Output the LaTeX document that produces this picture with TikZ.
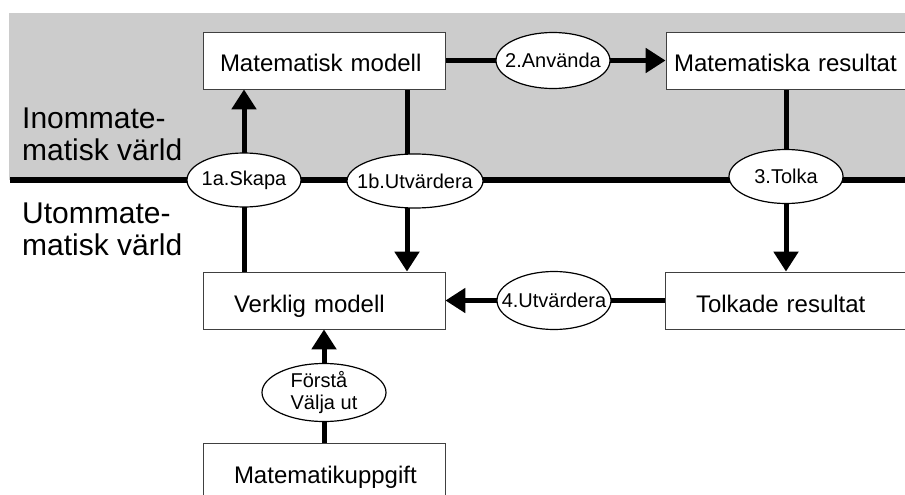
\documentclass[tikz,border=0pt]{standalone}
\usepackage{fontspec}
\setmainfont{Liberation Sans}
\usetikzlibrary{positioning,shapes.geometric,arrows.meta,backgrounds}

\begin{document}
\begin{tikzpicture}[x=1pt, y=-1pt, node distance = 240pt and 462pt, on grid,
box/.style ={rectangle, draw=black!75, line width=0.8pt, fill=white, minimum height=57pt, inner xsep=31pt, inner ysep=0pt, text width=180pt, text height=23pt, text depth=0pt, align=left, font=\fontsize{24}{28}\selectfont},
phase/.style ={ellipse, draw, line width=1.2pt, fill=white, inner sep=-40pt, minimum width=114pt, minimum height=54pt, font=\fontsize{20}{22}\selectfont},
world/.style ={anchor=west, inner sep=0pt, align=left, font=\fontsize{30}{32}\selectfont},
flow/.style ={line width=5pt, -{Triangle[length=20pt, width=24pt]}}]
\useasboundingbox (0,0) rectangle (905,495);

\node[box, inner xsep=17pt, text width=208pt] (MM) at (324,60.5) {Matematisk modell};
\node[box, inner xsep=8pt, text width=224pt] (MR) [right = of MM] {Matematiska resultat};
\node[box] (VM) [below = of MM] {Verklig modell};
\node[box] (TR) [right = of VM] {Tolkade resultat};
\node[box] (MU) [below = 171pt of VM] {Matematikuppgift};

\node[world] (inom) at (22,134) {Inommate-\\matisk värld};
\node[world] (utom) at (22,229) {Utommate-\\matisk värld};

\node[phase] (skapa) at (244,180) {1a.Skapa};
\node[phase, minimum width=136pt] (utv1) at (415,181) {1b.Utvärdera};
\node[phase, minimum height=56pt] (anv) [right = 229pt of MM] {2.Använda};
\node[phase] (tolka) [below = 116pt of MR] {3.Tolka};
\node[phase, minimum height=58pt] (utv4) [right = 230pt of VM] {4.Utvärdera};
\node[phase, minimum width=124pt, minimum height=58pt, align=left] (forsta) [below = 92pt of VM] {Förstå\\Välja ut};

\begin{scope}[on background layer]
\fill[black!20] (9,13) rectangle (905,180);
\draw[line width=6pt] (10,180) -- (905,180);
\draw[flow] (VM.north -| skapa) -- (MM.south -| skapa);
\draw[flow] ([xshift=83pt]MM.south) -- ([xshift=83pt]VM.north);
\draw[flow] (MM.east) -- (MR.west);
\draw[flow] (MR.south) -- (TR.north);
\draw[flow] (TR.west) -- (VM.east);
\draw[flow] (MU.north) -- (VM.south);
\end{scope}
\end{tikzpicture}
\end{document}
